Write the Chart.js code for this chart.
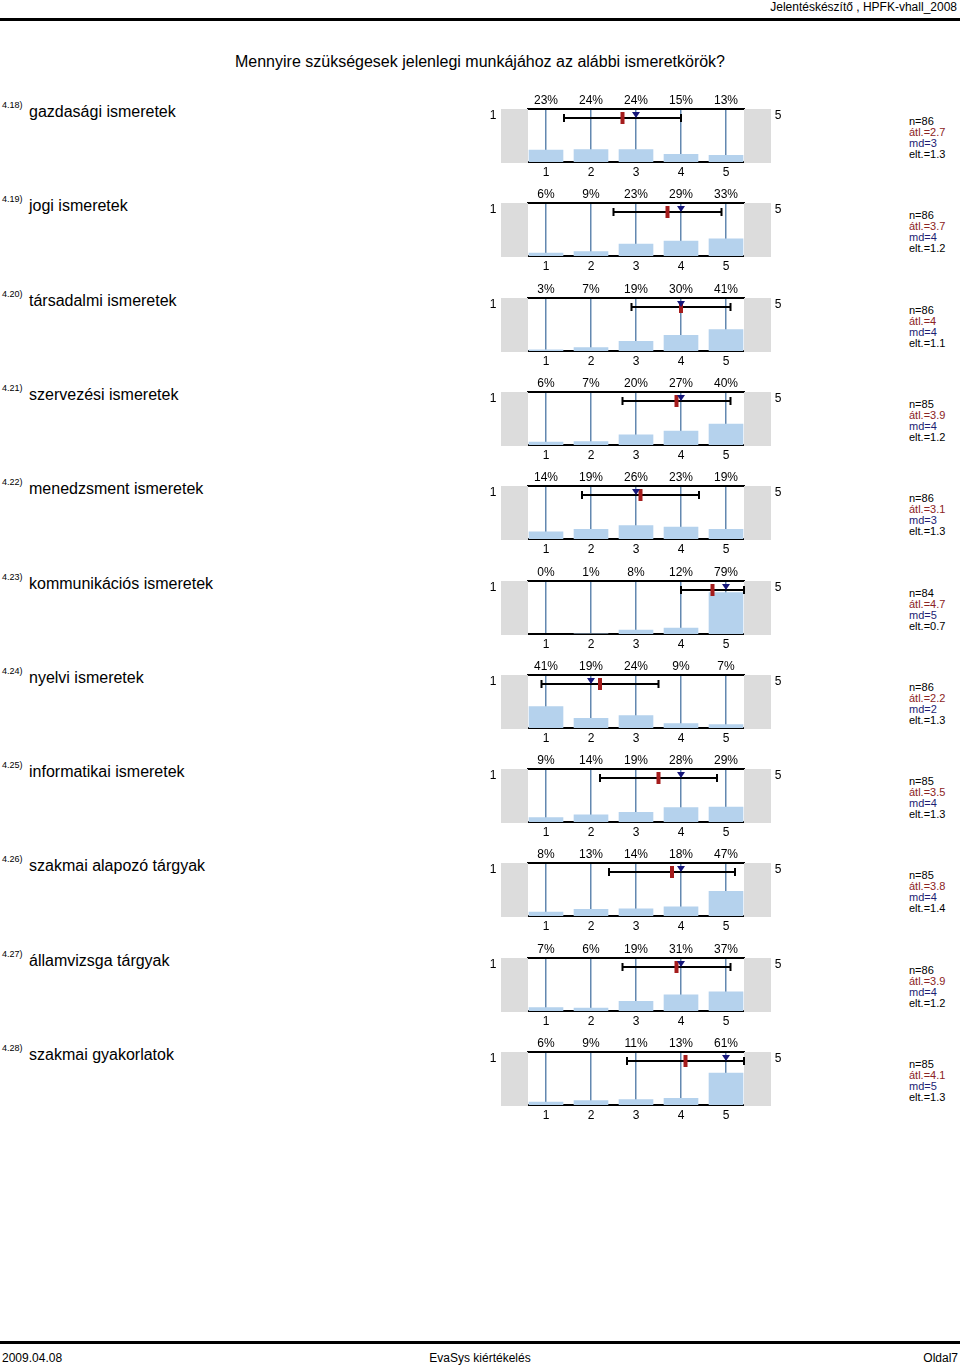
<!DOCTYPE html>
<html>
<head>
<meta charset="utf-8">
<script src="https://cdn.jsdelivr.net/npm/chart.js@4.4.1/dist/chart.umd.min.js"></script>
<style>
  body { margin: 0; background: #fff; font-family: "Liberation Sans", Arial, sans-serif; }
  #page { position: relative; width: 960px; height: 1368px; overflow: hidden; }
  .abs { position: absolute; white-space: nowrap; color: #000; }
  .rule { position: absolute; left: 0; width: 960px; height: 3px; background: #000; }
  .code { font-size: 9px; }
  .title { font-size: 16px; }
  .stats { font-size: 11px; line-height: 11px; }
  .mean { color: #8b2323; }
  .md { color: #1c1c72; }
  canvas { position: absolute; }
</style>
</head>
<body>
<div id="page">
  <div class="abs" style="right:3px;top:0px;font-size:12px;">Jelentéskészítő , HPFK-vhall_2008</div>
  <div class="rule" style="top:18px;"></div>
  <div class="abs" style="left:0;width:960px;text-align:center;top:53px;font-size:16px;">Mennyire szükségesek jelenlegi munkájához az alábbi ismeretkörök?</div>
  <div class="rule" style="top:1341px;"></div>
  <div class="abs" style="left:2px;top:1351px;font-size:12px;">2009.04.08</div>
  <div class="abs" style="left:0;width:960px;text-align:center;top:1351px;font-size:12px;">EvaSys kiértékelés</div>
  <div class="abs" style="right:2px;top:1351px;font-size:12px;">Oldal7</div>
</div>
<script>
// kérdések
const codes = ["4.18)", "4.19)", "4.20)", "4.21)", "4.22)", "4.23)", "4.24)", "4.25)", "4.26)", "4.27)", "4.28)"];
const questions = [
  "gazdasági ismeretek",
  "jogi ismeretek",
  "társadalmi ismeretek",
  "szervezési ismeretek",
  "menedzsment ismeretek",
  "kommunikációs ismeretek",
  "nyelvi ismeretek",
  "informatikai ismeretek",
  "szakmai alapozó tárgyak",
  "államvizsga tárgyak",
  "szakmai gyakorlatok"
];

// válaszok megoszlása (%) az 1..5 skálán
const percents = [
  [23, 24, 24, 15, 13],
  [6, 9, 23, 29, 33],
  [3, 7, 19, 30, 41],
  [6, 7, 20, 27, 40],
  [14, 19, 26, 23, 19],
  [0, 1, 8, 12, 79],
  [41, 19, 24, 9, 7],
  [9, 14, 19, 28, 29],
  [8, 13, 14, 18, 47],
  [7, 6, 19, 31, 37],
  [6, 9, 11, 13, 61]
];

// statisztikák
const counts = [86, 86, 86, 85, 86, 84, 86, 85, 85, 86, 85];
const means = [2.7, 3.7, 4, 3.9, 3.1, 4.7, 2.2, 3.5, 3.8, 3.9, 4.1];
const medians = [3, 4, 4, 4, 3, 5, 2, 4, 4, 4, 5];
const deviations = [1.3, 1.2, 1.1, 1.2, 1.3, 0.7, 1.3, 1.3, 1.4, 1.2, 1.3];

const scaleValues = [1, 2, 3, 4, 5];
const scaleLeftLabel = "1";
const scaleRightLabel = "5";

const page = document.getElementById("page");
const STEP = 94.3;

// szürke sávok, hibasáv, átlag és medián jelölők
const markerPlugin = {
  id: "markers",
  beforeDatasetsDraw(chart, args, opts) {
    const { ctx, chartArea: a, scales: { x } } = chart;
    ctx.save();
    ctx.fillStyle = "#dcdcdc";
    const l0 = x.getPixelForValue(0), r0 = x.getPixelForValue(6);
    ctx.fillRect(l0, a.top, a.left - l0, a.bottom - a.top + 1);
    ctx.fillRect(a.right, a.top, r0 - a.right, a.bottom - a.top + 1);
    ctx.fillStyle = "#000";
    ctx.font = "12px 'Liberation Sans', Arial, sans-serif";
    ctx.textAlign = "center";
    ctx.textBaseline = "middle";
    ctx.fillText(scaleLeftLabel, l0 - 8, a.top + 7);
    ctx.fillText(scaleRightLabel, r0 + 7, a.top + 7);
    ctx.restore();
  },
  afterDraw(chart, args, opts) {
    const { ctx, chartArea: a, scales: { x } } = chart;
    const y = a.top + 9;
    const lo = x.getPixelForValue(opts.mean - opts.sd);
    const hi = x.getPixelForValue(opts.mean + opts.sd);
    const m = x.getPixelForValue(opts.mean);
    const md = x.getPixelForValue(opts.median);
    ctx.save();
    ctx.strokeStyle = "#000";
    ctx.lineWidth = 2;
    ctx.beginPath();
    ctx.moveTo(lo, y); ctx.lineTo(hi, y);
    ctx.moveTo(lo, y - 4); ctx.lineTo(lo, y + 4);
    ctx.moveTo(hi, y - 4); ctx.lineTo(hi, y + 4);
    ctx.stroke();
    ctx.fillStyle = "#a51c1c";
    ctx.fillRect(m - 2, y - 6, 4, 12);
    ctx.fillStyle = "#16167a";
    ctx.beginPath();
    ctx.moveTo(md - 4, a.top + 3);
    ctx.lineTo(md + 4, a.top + 3);
    ctx.lineTo(md, y);
    ctx.closePath();
    ctx.fill();
    ctx.restore();
  }
};

questions.forEach((q, i) => {
  const off = i * STEP;

  const code = document.createElement("div");
  code.className = "abs code";
  code.style.left = "2px";
  code.style.top = (100 + off) + "px";
  code.textContent = codes[i];
  page.appendChild(code);

  const title = document.createElement("div");
  title.className = "abs title";
  title.style.left = "29px";
  title.style.top = (103 + off) + "px";
  title.textContent = q;
  page.appendChild(title);

  const stats = document.createElement("div");
  stats.className = "abs stats";
  stats.style.left = "909px";
  stats.style.top = (116 + off) + "px";
  stats.innerHTML =
    "n=" + counts[i] + "<br>" +
    "<span class='mean'>átl.=" + means[i] + "</span><br>" +
    "<span class='md'>md=" + medians[i] + "</span><br>" +
    "elt.=" + deviations[i];
  page.appendChild(stats);

  const canvas = document.createElement("canvas");
  canvas.width = 320;
  canvas.height = 95;
  canvas.style.left = "480px";
  canvas.style.top = Math.round(85 + off) + "px";
  page.appendChild(canvas);

  const pct = percents[i];
  new Chart(canvas.getContext("2d"), {
    type: "bar",
    data: {
      datasets: [{
        data: scaleValues.map((v, k) => ({ x: v, y: pct[k] })),
        backgroundColor: "#b5d2ed",
        borderWidth: 0,
        categoryPercentage: 1,
        barPercentage: 0.77
      }]
    },
    options: {
      responsive: false,
      animation: false,
      layout: { padding: { left: 48, right: 56, top: 0, bottom: 0 } },
      plugins: {
        legend: { display: false },
        tooltip: { enabled: false },
        markers: { mean: means[i], sd: deviations[i], median: medians[i] }
      },
      scales: {
        x: {
          type: "linear",
          position: "bottom",
          min: 0.6,
          max: 5.4,
          offset: false,
          z: 1,
          afterBuildTicks: s => { s.ticks = scaleValues.map(v => ({ value: v })); },
          afterFit: s => { s.height = 18; },
          grid: { color: "#6388b0", lineWidth: 1.5, drawTicks: false, offset: false },
          border: { color: "#000", width: 2 },
          ticks: { color: "#000", padding: 3, font: { size: 12, family: "'Liberation Sans', Arial, sans-serif" } }
        },
        x2: {
          type: "linear",
          position: "top",
          min: 0.6,
          max: 5.4,
          offset: false,
          afterBuildTicks: s => { s.ticks = scaleValues.map(v => ({ value: v })); },
          afterFit: s => { s.height = 24; },
          grid: { display: false, drawTicks: false, offset: false },
          border: { color: "#000", width: 2 },
          ticks: {
            color: "#000",
            padding: 1,
            font: { size: 12, family: "'Liberation Sans', Arial, sans-serif" },
            callback: (v, idx) => pct[idx] + "%"
          }
        },
        y: { display: false, min: 0, max: 100 }
      }
    },
    plugins: [markerPlugin]
  });
});
</script>
</body>
</html>
